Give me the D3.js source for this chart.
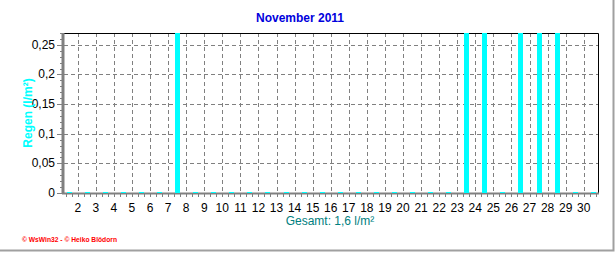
<!DOCTYPE html>
<html>
<head>
<meta charset="utf-8">
<script src="https://cdn.jsdelivr.net/npm/d3@7"></script>
<style>
  body { margin: 0; background: #fff; }
  svg { display: block; font-family: "Liberation Sans", Arial, sans-serif; }
</style>
</head>
<body>
<div class="chart"></div>
<script>
// daily rain, November 2011 (l/m²)
const days = d3.range(1, 31);
const rain = [0, 0, 0, 0, 0, 0, 0.27, 0, 0, 0,
              0, 0, 0, 0, 0, 0, 0, 0, 0, 0,
              0, 0, 0.27, 0.27, 0, 0.27, 0.27, 0.27, 0, 0];
const dayTicks = d3.range(2, 31);
const yTicks = [0, 0.05, 0.1, 0.15, 0.2, 0.25];

const title = "November 2011";
const yLabel = "Regen (l/m²)";
const total = "Gesamt: 1,6 l/m²";
const credit = "© WsWin32  -  © Heiko Blödorn";

const width = 616, height = 253;
const margin = {top: 33, right: 18, bottom: 60, left: 64};

const svg = d3.select(".chart")
  .append("svg")
    .attr("width", width)
    .attr("height", height);

// outer frame (right + bottom gray edge)
svg.append("path")
  .attr("d", `M${width - 2.5},0V${height - 2.5}H0`)
  .attr("fill", "none")
  .attr("stroke", "#a0a0a0")
  .attr("stroke-width", 2);

const xScale = d3.scaleLinear().domain([1.24, 30.79]).range([margin.left, width - margin.right]);
const yScale = d3.scaleLinear().domain([0, 0.27]).range([height - margin.bottom, margin.top]);

const x0 = xScale.range()[0], x1 = xScale.range()[1];
const y0 = yScale.range()[0], y1 = yScale.range()[1];

// grid
svg.append("g")
  .selectAll("line")
  .data(yTicks.slice(1))
  .join("line")
    .attr("x1", x0).attr("x2", x1)
    .attr("y1", d => Math.round(yScale(d)) + 0.5)
    .attr("y2", d => Math.round(yScale(d)) + 0.5)
    .attr("stroke", "#808080")
    .attr("stroke-dasharray", "4,3");

svg.append("g")
  .selectAll("line")
  .data(dayTicks)
  .join("line")
    .attr("x1", d => Math.round(xScale(d)) + 0.5)
    .attr("x2", d => Math.round(xScale(d)) + 0.5)
    .attr("y1", y1).attr("y2", y0)
    .attr("stroke", "#808080")
    .attr("stroke-dasharray", "4,3");

// top + right frame
svg.append("path")
  .attr("d", `M${x0},${y1 + 0.5}H${x1 + 0.5}V${y0}`)
  .attr("fill", "none")
  .attr("stroke", "#000")
  .attr("stroke-width", 1);

// minor ticks
svg.append("g")
  .selectAll("line")
  .data(d3.range(0, 0.2701, 0.01))
  .join("line")
    .attr("x1", x0 - 4).attr("x2", x0)
    .attr("y1", d => Math.round(yScale(d)) + 0.5)
    .attr("y2", d => Math.round(yScale(d)) + 0.5)
    .attr("stroke", "#808080");

svg.append("g")
  .selectAll("line")
  .data(d3.range(4, 93).map(k => k / 3))
  .join("line")
    .attr("x1", d => Math.round(xScale(d)) + 0.5)
    .attr("x2", d => Math.round(xScale(d)) + 0.5)
    .attr("y1", y0).attr("y2", y0 + 4)
    .attr("stroke", "#808080");

// major y ticks
svg.append("g")
  .selectAll("line")
  .data(yTicks)
  .join("line")
    .attr("x1", x0 - 7).attr("x2", x0)
    .attr("y1", d => Math.round(yScale(d)) + 0.5)
    .attr("y2", d => Math.round(yScale(d)) + 0.5)
    .attr("stroke", "#808080");

// axis lines
svg.append("line")
  .attr("x1", x0 - 1).attr("x2", x0 - 1)
  .attr("y1", y1).attr("y2", y0 + 1)
  .attr("stroke", "#808080").attr("stroke-width", 3);
svg.append("line")
  .attr("x1", x0 - 2).attr("x2", x1 + 1)
  .attr("y1", y0 + 0.5).attr("y2", y0 + 0.5)
  .attr("stroke", "#808080").attr("stroke-width", 2);

// bars (zero days show as a thin cyan mark on the axis)
svg.append("g")
  .selectAll("rect")
  .data(days.map((d, i) => ({day: d, value: rain[i]})))
  .join("rect")
    .attr("x", d => Math.round(xScale(d.day + 0.5)) - 2)
    .attr("width", 5)
    .attr("y", d => Math.min(yScale(Math.min(d.value, 0.27)), y0 - 1))
    .attr("height", d => Math.max(y0 - yScale(Math.min(d.value, 0.27)), 1))
    .attr("fill", "#00ffff");

// tick labels
svg.append("g")
  .selectAll("text")
  .data(yTicks)
  .join("text")
    .attr("x", x0 - 9)
    .attr("y", d => yScale(d) + 4)
    .attr("text-anchor", "end")
    .attr("font-size", 12)
    .text(d => d3.format("")(d).replace(".", ","));

svg.append("g")
  .selectAll("text")
  .data(dayTicks)
  .join("text")
    .attr("x", d => xScale(d))
    .attr("y", y0 + 19)
    .attr("text-anchor", "middle")
    .attr("font-size", 12)
    .text(d => d);

// titles
svg.append("text")
  .attr("x", 300).attr("y", 22)
  .attr("text-anchor", "middle")
  .attr("font-size", 12).attr("font-weight", "bold")
  .attr("fill", "#0000dd")
  .text(title);

svg.append("text")
  .attr("transform", `translate(32,${(y0 + y1) / 2}) rotate(-90)`)
  .attr("text-anchor", "middle")
  .attr("font-size", 12).attr("font-weight", "bold")
  .attr("fill", "#00ffff")
  .text(yLabel);

svg.append("text")
  .attr("x", 330).attr("y", 225)
  .attr("text-anchor", "middle")
  .attr("font-size", 12)
  .attr("fill", "#008080")
  .text(total);

svg.append("text")
  .attr("x", 22).attr("y", 242)
  .attr("font-size", 8).attr("font-weight", "bold")
  .attr("fill", "#ff0000")
  .attr("textLength", 95)
  .attr("lengthAdjust", "spacingAndGlyphs")
  .text(credit);
</script>
</body>
</html>
